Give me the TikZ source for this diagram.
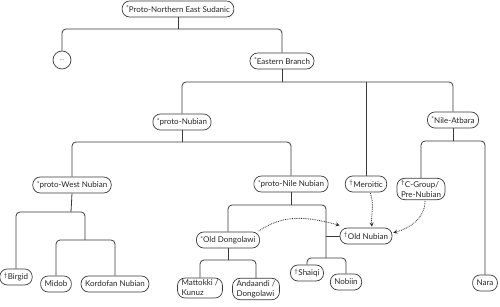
\documentclass[tikz,border=0pt]{standalone}
\usepackage{fontspec}
\setmainfont{Lato}
\usepackage{tikz}
\usetikzlibrary{arrows, positioning}
\definecolor{linegray}{HTML}{3A3A3A}
\newcommand{\rec}{\raisebox{0.35ex}{\fontsize{6.5}{6}\selectfont *}}
\newcommand{\ext}{\textsuperscript{\dag}}
\tikzstyle{lang} = [rectangle, rounded corners=7.5pt, minimum height=16pt, inner xsep=4pt, inner ysep=2pt, draw=linegray, line width=0.7pt, fill=white, text=black!85, align=left, font=\fontsize{8}{10}\selectfont]
\tikzstyle{branch} = [draw=linegray, line width=0.8pt, rounded corners=4pt]
\tikzstyle{influence} = [draw=black!85, line width=0.8pt, densely dotted, ->, >=stealth, shorten >=1pt, shorten <=1pt]

\begin{document}
\begin{tikzpicture}[x=1pt, y=-1pt]
\useasboundingbox (0,0) rectangle (500,307);

% languages
\node (pnes) [lang] at (178,9) {\rec Proto-Northern East Sudanic};
\node (dots) [lang, minimum width=18pt, minimum height=18pt, inner xsep=1pt, rounded corners=9pt, font=\fontsize{5}{6}\selectfont] at (62,60) {\dots};
\node (eastern) [lang] at (282,61) {\rec Eastern Branch};
\node (pnub) [lang] at (182,122) {\rec proto-Nubian};
\node (nilatb) [lang] at (453,120) {\rec Nile-Atbara};
\node (pwn) [lang] at (72,185) {\rec proto-West Nubian};
\node (pnn) [lang] at (291,184) {\rec proto-Nile Nubian};
\node (mero) [lang] at (366,184) {\ext Meroitic};
\node (cgroup) [lang] at (421,189) {\ext C-Group/\\Pre-Nubian};
\node (birgid) [lang] at (16,277) {\ext Birgid};
\node (midob) [lang] at (56,284) {Midob};
\node (kordofan) [lang] at (115,284) {Kordofan Nubian};
\node (olddong) [lang] at (228,240) {\rec Old Dongolawi};
\node (oldnub) [lang] at (366,236) {\ext Old Nubian};
\node (mattokki) [lang] at (200,288) {Mattokki /\\Kunuz};
\node (andaandi) [lang] at (256,289) {Andaandi /\\Dongolawi};
\node (shaiqi) [lang] at (307,273) {\ext Shaiqi};
\node (nobiin) [lang] at (346,282) {Nobiin};
\node (nara) [lang] at (485,283) {Nara};

% junctions
\coordinate (j1) at (178,29);
\coordinate (j2) at (282,82);
\coordinate (j3) at (182,142);
\coordinate (j4) at (453,141);
\coordinate (j5) at (71,212);
\coordinate (j6) at (85,240);
\coordinate (j7) at (291,205);
\coordinate (j8) at (326,258);
\coordinate (j9) at (228,260);

% tree
\draw [branch] (pnes.south) -- (j1);
\draw [branch] (dots.north) |- (j1) -| (eastern.north);
\draw [branch] (eastern.south) -- (j2);
\draw [branch] (pnub.north) |- (j2) -| (nilatb.north);
\draw [branch] (mero.north) -- (mero.north |- j2);
\draw [branch] (pnub.south) -- (j3);
\draw [branch] (pwn.north) |- (j3) -| (pnn.north);
\draw [branch] (nilatb.south) -- (j4);
\draw [branch] (cgroup.north) |- (j4) -| (nara.north);
\draw [branch] (pwn.south) -- (j5);
\draw [branch] (birgid.north) |- (j5) -| (j6);
\draw [branch] (midob.north) |- (j6) -| (kordofan.north);
\draw [branch] (pnn.south) -- (j7);
\draw [branch] (olddong.north) |- (j7) -| (j8);
\draw [branch] (shaiqi.north) |- (j8) -| (nobiin.north);
\draw [branch] (oldnub.west) -- (oldnub.west -| j8);
\draw [branch] (olddong.south) -- (j9);
\draw [branch] (mattokki.north) |- (j9) -| (andaandi.north);

% contact
\draw [influence] ([xshift=-2pt]olddong.north east) to[out=35, in=165] ([xshift=1pt, yshift=2pt]oldnub.north west);
\draw [influence] ([xshift=4pt]mero.south) to[out=-70, in=95] ([xshift=6pt]oldnub.north);
\draw [influence] ([xshift=4pt]cgroup.south) to[out=-90, in=15] ([yshift=3pt]oldnub.east);

\end{tikzpicture}
\end{document}
